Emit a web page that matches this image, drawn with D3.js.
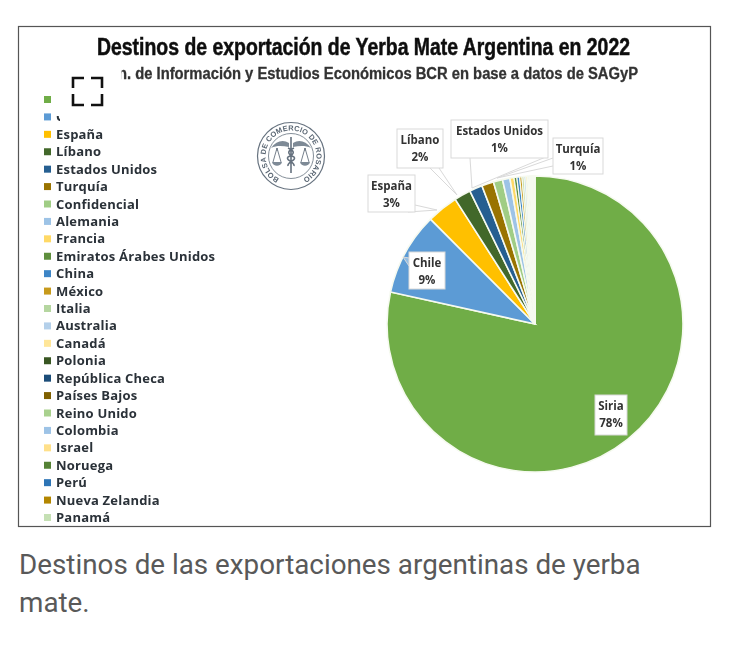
<!DOCTYPE html>
<html>
<head>
<meta charset="utf-8">
<script src="https://cdn.jsdelivr.net/npm/d3@7"></script>
<style>
html, body { margin: 0; background: #fff; }
svg { display: block; }
</style>
</head>
<body>
<svg width="737" height="651"></svg>
<script>
// values (% of exports)
const countries = ["Siria", "Chile", "España", "Líbano", "Estados Unidos", "Turquía", "Confidencial", "Alemania", "Francia", "Emiratos Árabes Unidos", "China", "México", "Italia", "Australia", "Canadá", "Polonia", "República Checa", "Países Bajos", "Reino Unido", "Colombia", "Israel", "Noruega", "Perú", "Nueva Zelandia", "Panamá"];
const shares = [78, 9, 3.4, 1.8, 1.4, 1.3, 1.0, 0.8, 0.45, 0.3, 0.3, 0.25, 0.22, 0.2, 0.17, 0.15, 0.12, 0.1, 0.1, 0.08, 0.07, 0.06, 0.05, 0.04, 0.04];
const sliceColors = ["#70ad47", "#5b9bd5", "#ffc000", "#43682b", "#255e91", "#997300", "#a0cd85", "#9dc3e6", "#ffd966", "#5f8f3e", "#3d85c6", "#c79a1e", "#b5d6a0", "#b4d0ea", "#ffe699", "#385723", "#1f4e79", "#7f6000", "#a9d18e", "#9dc3e6", "#ffe08a", "#548235", "#2e75b6", "#b38600", "#c5e0b4"];

const labelNames = ["Siria", "Chile", "España", "Líbano", "Estados Unidos", "Turquía"];
const labelPercents = ["78%", "9%", "3%", "2%", "1%", "1%"];

const title = "Destinos de exportación de Yerba Mate Argentina en 2022";
const subtitle = "n. de Información y Estudios Económicos BCR en base a datos de SAGyP";
const caption = ["Destinos de las exportaciones argentinas de yerba", "mate."];

// label boxes: x, y, w, h and the callout tip
const labelBoxes = [
  { x: 595, y: 395, w: 32, h: 40 },
  { x: 409, y: 252, w: 36, h: 37, tip: [403, 257], base: [[409, 258], [409, 266]] },
  { x: 368, y: 175, w: 47, h: 37, tip: [437, 210], base: [[408, 212], [415, 205]] },
  { x: 397, y: 129, w: 46, h: 39, tip: [457, 195], base: [[430, 168], [439, 168]] },
  { x: 451, y: 120, w: 97, h: 38, tip: [472, 188], base: [[470, 158], [548, 156]] },
  { x: 553, y: 138, w: 50, h: 36, tip: [497, 178], base: [[553, 166], [553, 158]] }
];

const svg = d3.select("svg");
svg.append("defs").append("filter").attr("id", "soft")
  .append("feGaussianBlur").attr("stdDeviation", 0.55);
const chart = svg.append("g").attr("filter", "url(#soft)");

chart.append("rect").attr("x", 18.5).attr("y", 26.5).attr("width", 692).attr("height", 500)
  .attr("fill", "#fff").attr("stroke", "#555").attr("stroke-width", 1.2);

chart.append("text").attr("x", 97).attr("y", 55)
  .attr("textLength", 533).attr("lengthAdjust", "spacingAndGlyphs")
  .attr("font-family", "Liberation Sans").attr("font-weight", 700).attr("font-size", 23)
  .attr("fill", "#111").attr("stroke", "#111").attr("stroke-width", 0.5).text(title);
chart.append("text").attr("x", 118).attr("y", 79)
  .attr("textLength", 520).attr("lengthAdjust", "spacingAndGlyphs")
  .attr("font-family", "Liberation Sans").attr("font-weight", 700).attr("font-size", 16)
  .attr("fill", "#333").attr("stroke", "#333").attr("stroke-width", 0.3).text(subtitle);

// pie
const cx = 535, cy = 324, radius = 148;
const color = d3.scaleOrdinal(countries, sliceColors);
const pie = d3.pie().value((d, i) => shares[i]).sort(null);
const arc = d3.arc().innerRadius(0).outerRadius(radius);

const pieG = chart.append("g").attr("transform", `translate(${cx},${cy})`);
pieG.selectAll("path").data(pie(countries)).join("path")
  .attr("d", arc)
  .attr("fill", d => color(d.data))
  .attr("stroke", "#f6faf0")
  .attr("stroke-width", d => d.index < 9 ? 1.6 : d.index < 15 ? 1.2 : 1.5);

// legend
const legendY = d3.scalePoint().domain(countries).range([99, 517]);
const legend = chart.append("g").selectAll("g").data(countries).join("g")
  .attr("transform", d => `translate(44,${legendY(d)})`);
legend.append("rect").attr("y", -3).attr("width", 7).attr("height", 7).attr("fill", d => color(d));
legend.append("text").attr("x", 12).attr("y", 5)
  .attr("font-family", "Open Sans").attr("font-weight", 700).attr("font-size", 13)
  .attr("letter-spacing", 0.2).attr("fill", "#2a3038").text(d => d);

// what hides the first legend rows and the start of the subtitle
chart.append("rect").attr("x", 54).attr("y", 64).attr("width", 67.5).attr("height", 52).attr("fill", "#fff");
chart.append("rect").attr("x", 60).attr("y", 110).attr("width", 50).attr("height", 15).attr("fill", "#fff");

// callouts
const callouts = chart.append("g").selectAll("g").data(labelBoxes).join("g");
callouts.filter(d => d.tip).append("path")
  .attr("d", d => d3.line()([d.base[0], d.tip, d.base[1]]))
  .attr("fill", "#fff").attr("fill-opacity", 0.35).attr("stroke", "#d9d9d9").attr("stroke-width", 1);
callouts.append("rect")
  .attr("x", d => d.x).attr("y", d => d.y).attr("width", d => d.w).attr("height", d => d.h)
  .attr("fill", "#fff").attr("stroke", "#d9d9d9").attr("stroke-width", 1);
const labelText = callouts.append("text").attr("text-anchor", "middle")
  .attr("font-family", "Open Sans").attr("font-weight", 700).attr("font-size", 11.5).attr("fill", "#333");
labelText.append("tspan").attr("x", d => d.x + d.w / 2).attr("y", d => d.y + 15)
  .text((d, i) => labelNames[i]);
labelText.append("tspan").attr("x", d => d.x + d.w / 2).attr("y", d => d.y + 32)
  .text((d, i) => labelPercents[i]);

// seal
const seal = chart.append("g").attr("transform", "translate(291,156)")
  .attr("fill", "none").attr("stroke", "#66727f");
seal.append("circle").attr("r", 33.5).attr("stroke-width", 1.2);
seal.append("circle").attr("r", 22.5).attr("stroke-width", 0.8);
seal.append("path").attr("id", "sealRing").attr("stroke", "none")
  .attr("d", "M -10.8 23.1 A 25.5 25.5 0 1 1 10.8 23.1");
seal.append("text").attr("fill", "#5a6673").attr("stroke", "none")
  .attr("font-family", "Liberation Sans").attr("font-weight", 700).attr("font-size", 7.4)
  .attr("letter-spacing", 0.2)
  .append("textPath").attr("href", "#sealRing").attr("startOffset", "50%").attr("text-anchor", "middle")
  .text("BOLSA DE COMERCIO DE ROSARIO");
seal.append("path").attr("stroke-width", 1.6)
  .attr("d", "M0 -19 V17 M-3 -8 C4 -5 4 -2 -3 1 C-6 4 4 6 3 10 M3 -8 C-4 -5 -4 -2 3 1 C6 4 -4 6 -3 10");
seal.append("path").attr("fill", "#7e8a96").attr("stroke", "none")
  .attr("d", "M-2 -13 C-8 -17 -15 -15 -20 -8 C-14 -11 -8 -10 -2 -9 Z M2 -13 C8 -17 15 -15 20 -8 C14 -11 8 -10 2 -9 Z");
seal.append("path").attr("stroke-width", 0.9)
  .attr("d", "M-14 -8 L-18 6 M-14 -8 L-10 6 M14 -8 L18 6 M14 -8 L10 6 M-14 -8 V-5 M14 -8 V-5");
seal.append("path").attr("fill", "#7e8a96").attr("stroke", "none")
  .attr("d", "M-19 6 H-9 C-10 11 -18 11 -19 6 Z M9 6 H19 C18 11 10 11 9 6 Z");

// fullscreen icon of the page
svg.append("path").attr("fill", "none").attr("stroke", "#111").attr("stroke-width", 2.6)
  .attr("d", "M73 88 V78 H84 M91 78 H102 V88 M73 94 V105 H84 M91 105 H102 V94");

// caption
svg.append("g").selectAll("text").data(caption).join("text")
  .attr("x", 19).attr("y", (d, i) => 574 + i * 38)
  .attr("font-family", "Roboto").attr("font-size", 27.8).attr("fill", "#595959").text(d => d);
</script>
</body>
</html>
